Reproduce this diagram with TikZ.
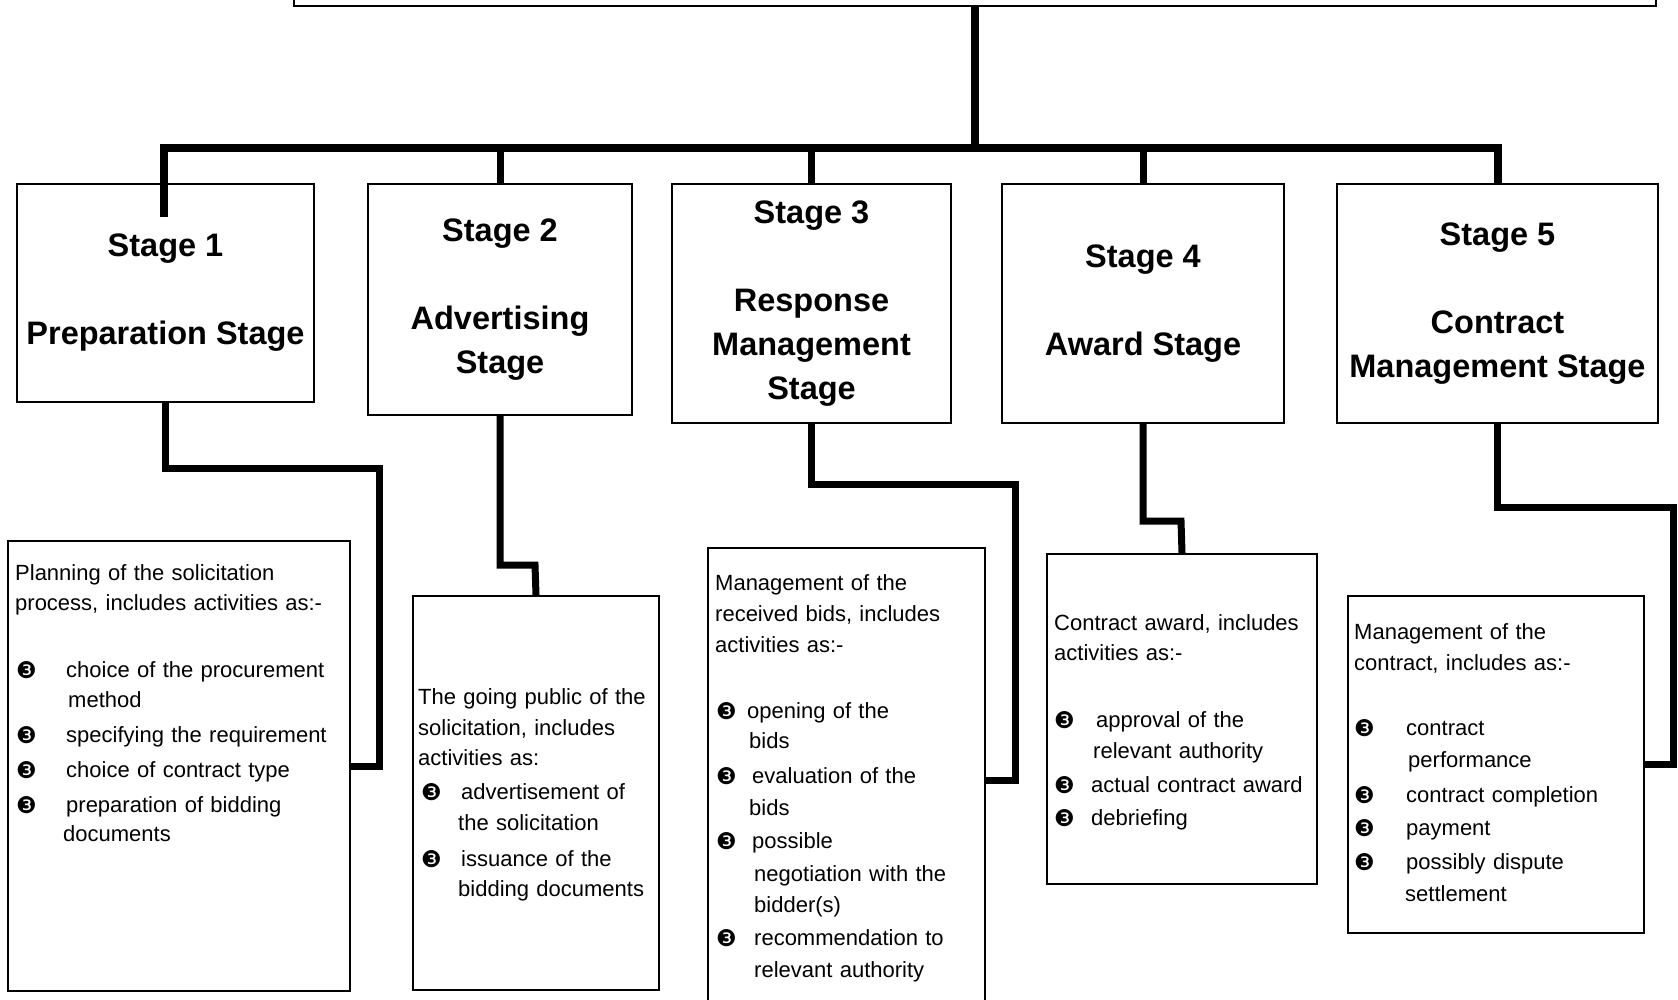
\documentclass[tikz,border=0pt]{standalone}
\usepackage{fontspec}
\setmainfont{Liberation Sans}
\newfontfamily\bulletfont{DejaVu Sans}
% bullet set in a box of width #1pt, shifted right by #2pt
\newcommand\itemmark[2]{\makebox[#1pt][l]{\hspace*{#2pt}\raisebox{-1pt}{\bulletfont\fontsize{23}{23}\selectfont ❸}}}
\begin{document}
\begin{tikzpicture}[x=1pt,y=-1pt,
  stagebox/.style={draw, line width=2pt, anchor=north west, inner sep=0pt, align=center,
    font=\fontsize{32.5}{44}\selectfont\bfseries},
  infobox/.style={draw, line width=2pt, anchor=north west, inner sep=0pt},
  infotext/.style={anchor=north west, inner sep=0pt, text width=420pt, align=left,
    font=\fontsize{22}{30}\selectfont},
  conn/.style={line width=7pt},
  trunk/.style={line width=8pt}]

\useasboundingbox (0,0) rectangle (1678,1000);
\clip (0,0) rectangle (1678,1000);

% heading box (runs off the top edge)
\node[draw, line width=2pt, anchor=south, minimum width=1362pt, minimum height=80pt] (top) at (975,7) {};

% stage boxes
\node[stagebox, minimum width=297pt, minimum height=218pt] (s1) at (16,183) {Stage 1\\[44pt]Preparation Stage};
\node[stagebox, minimum width=264pt, minimum height=231pt] (s2) at (367,183) {Stage 2\\[44pt]Advertising\\Stage};
\node[stagebox, minimum width=279pt, minimum height=239pt] (s3) at (671,183) {Stage 3\\[44pt]Response\\Management\\Stage};
\node[stagebox, minimum width=282pt, minimum height=239pt] (s4) at (1001,183) {Stage 4\\[44pt]Award Stage};
\node[stagebox, minimum width=321pt, minimum height=239pt] (s5) at (1336,183) {Stage 5\\[44pt]Contract\\Management Stage};

% activity boxes
\node[infobox, minimum width=342pt, minimum height=450pt] (bA) at (7,540) {};
\node[infobox, minimum width=246pt, minimum height=394pt] (bB) at (412,595) {};
\node[infobox, minimum width=277pt, minimum height=464pt] (bC) at (707,547) {};
\node[infobox, minimum width=270pt, minimum height=330pt] (bD) at (1046,553) {};
\node[infobox, minimum width=296pt, minimum height=337pt] (bE) at (1347,595) {};

% activity texts
\node[infotext] (tA) at (15,558) {\rule{0pt}{22pt}Planning of the solicitation\\
process, includes activities as:-\\[37pt]
\itemmark{51}{1}choice of the procurement\\
\hspace*{53pt}method\\[5pt]
\itemmark{51}{1}specifying the requirement\\[5pt]
\itemmark{51}{1}choice of contract type\\[5pt]
\itemmark{51}{1}preparation of bidding\\[-1pt]
\hspace*{48pt}documents};

\node[infotext] (tB) at (418,682) {\rule{0pt}{22pt}The going public of the\\[1pt]
solicitation, includes\\
activities as:\\[4pt]
\itemmark{43}{3}advertisement of\\[1pt]
\hspace*{40pt}the solicitation\\[6pt]
\itemmark{43}{3}issuance of the\\
\hspace*{40pt}bidding documents};

\node[infotext] (tC) at (715,568) {\rule{0pt}{22pt}Management of the\\[1pt]
received bids, includes\\[1pt]
activities as:-\\[36pt]
\itemmark{32}{1}opening of the\\
\hspace*{34pt}bids\\[5pt]
\itemmark{37}{1}evaluation of the\\[2pt]
\hspace*{34pt}bids\\[3pt]
\itemmark{37}{1}possible\\[3pt]
\hspace*{39pt}negotiation with the\\[1pt]
\hspace*{39pt}bidder(s)\\[3pt]
\itemmark{39}{1}recommendation to\\[2pt]
\hspace*{39pt}relevant authority};

\node[infotext] (tD) at (1054,608) {\rule{0pt}{22pt}Contract award, includes\\
activities as:-\\[37pt]
\itemmark{42}{0}approval of the\\[1pt]
\hspace*{39pt}relevant authority\\[4pt]
\itemmark{37}{0}actual contract award\\[3pt]
\itemmark{37}{0}debriefing};

\node[infotext] (tE) at (1354,617) {\rule{0pt}{22pt}Management of the\\[1pt]
contract, includes as:-\\[35pt]
\itemmark{52}{0}contract\\[2pt]
\hspace*{54pt}performance\\[5pt]
\itemmark{52}{0}contract completion\\[3pt]
\itemmark{52}{0}payment\\[4pt]
\itemmark{52}{0}possibly dispute\\[2pt]
\hspace*{51pt}settlement};

% upper tree
\coordinate (hub) at (975,148);
\coordinate (d1) at (164,217);
\draw[trunk] (top.south) -- (hub);
\draw[trunk] (d1) |- (hub) -| (s5.north);
\draw[conn] (s2.north) -- (s2.north |- hub);
\draw[conn] (s3.north) -- (s3.north |- hub);
\draw[conn] (s4.north) -- (s4.north |- hub);

% stage to activity connectors
\coordinate (k1) at (379,468);
\coordinate (k2) at (535,565);
\coordinate (k3) at (1015,484);
\coordinate (k4) at (1181,521);
\coordinate (k5) at (1673,507);
\draw[conn] (s1.south) |- (k1) |- (bA.east);
\draw[conn] (s2.south) |- (k2) -- (bB.north);
\draw[conn] (s3.south) |- (k3) |- (bC.east);
\draw[conn] (s4.south) |- (k4) -- (bD.north);
\draw[conn] (s5.south) |- (k5) |- (bE.east);
\end{tikzpicture}
\end{document}
